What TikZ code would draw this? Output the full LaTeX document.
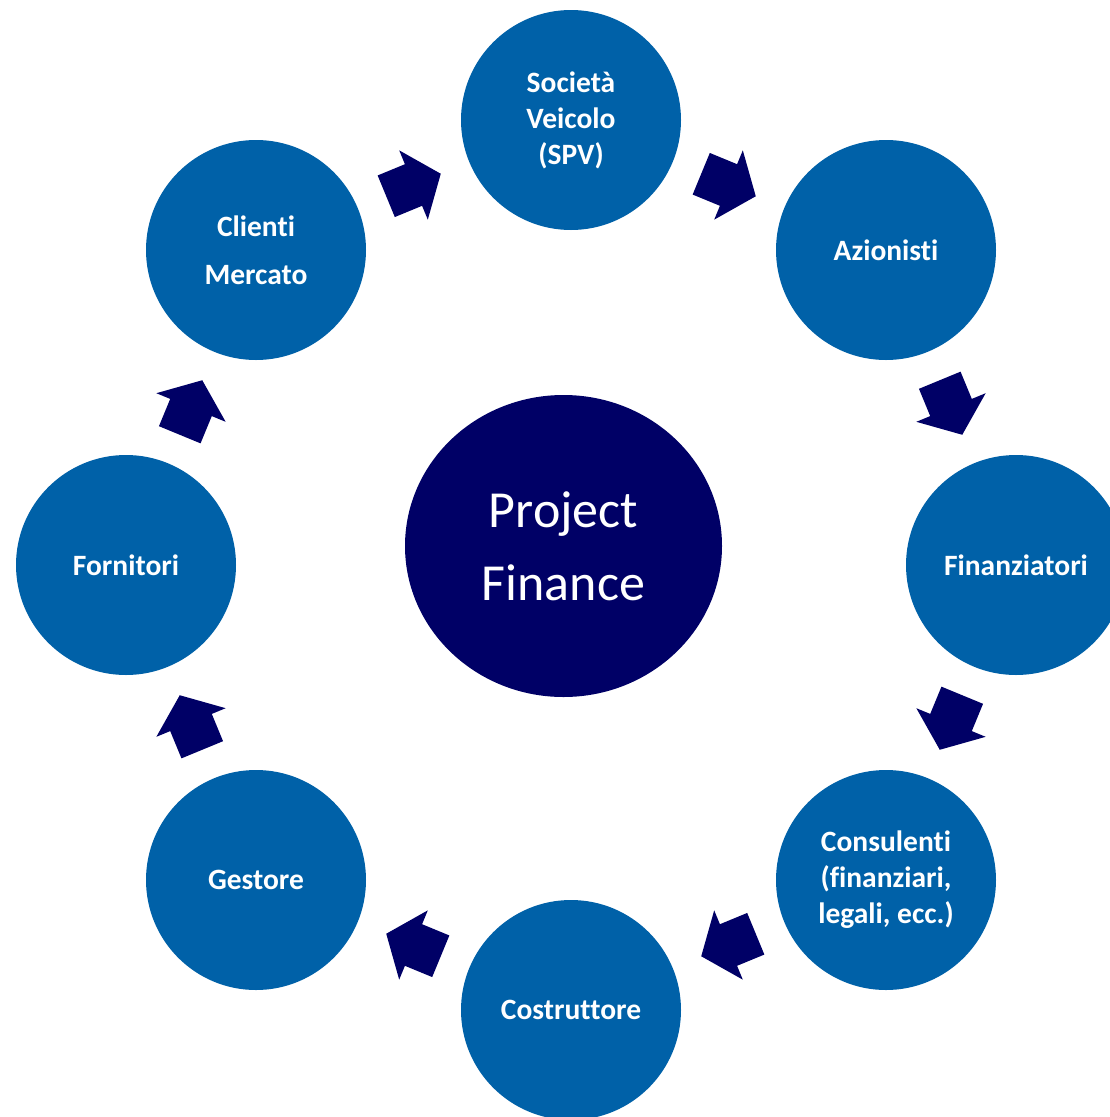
\documentclass[tikz,border=0pt]{standalone}
\usepackage{fontspec}
\setmainfont[Ligatures={NoCommon}]{Carlito}
\usetikzlibrary{calc,shapes.geometric}
\definecolor{ringblue}{RGB}{0,97,168}
\definecolor{deepnavy}{RGB}{0,0,102}
\newcommand\cycarrow[2]{%
  \coordinate (m) at ($(#1)!0.5!(#2)$);
  \coordinate (t) at ($(m)!-29.5pt!(#2)$);
  \coordinate (p) at ($(m)!29.5pt!(#2)$);
  \fill[blockarrow] ($(t)!22.5pt!90:(#2)$) -- ($(m)!22.5pt!90:(#2)$) -- ($(m)!37.5pt!90:(#2)$)
    -- (p) -- ($(m)!37.5pt!-90:(#2)$) -- ($(m)!22.5pt!-90:(#2)$) -- ($(t)!22.5pt!-90:(#2)$) -- cycle;%
}
\begin{document}
\begin{tikzpicture}[x=1pt,y=-1pt,
  member/.style={circle, fill=ringblue, minimum size=220pt, inner sep=0pt, text=white,
    align=center, font=\fontsize{29.5}{36}\bfseries\selectfont},
  hub/.style={ellipse, fill=deepnavy, minimum width=317pt, minimum height=302pt, inner sep=0pt,
    text=white, align=center, font=\fontsize{52}{73}\selectfont},
  blockarrow/.style={fill=deepnavy}]
\useasboundingbox (0,0) rectangle (1110,1117);
\clip (0,0) rectangle (1110,1117);
\fill[white] (0,0) rectangle (1110,1117);

\node[hub] (pf) at (563.5,546) {Project\\Finance};

\node[member] (spv) at (571,120) {Società\\Veicolo\\(SPV)};
\node[member] (az) at (886,250) {Azionisti};
\node[member] (fin) at (1016,565) {Finanziatori};
\node[member] (cons) at (886,880) {Consulenti\\(finanziari,\\legali, ecc.)};
\node[member] (cost) at (571,1010) {Costruttore};
\node[member] (gest) at (256,880) {Gestore};
\node[member] (forn) at (126,565) {Fornitori};
\node[member, font=\fontsize{29.5}{48}\bfseries\selectfont] (cli) at (256,250) {Clienti\\Mercato};

\cycarrow{cli}{spv}
\cycarrow{spv}{az}
\cycarrow{az}{fin}
\cycarrow{fin}{cons}
\cycarrow{cons}{cost}
\cycarrow{cost}{gest}
\cycarrow{gest}{forn}
\cycarrow{forn}{cli}
\end{tikzpicture}
\end{document}
